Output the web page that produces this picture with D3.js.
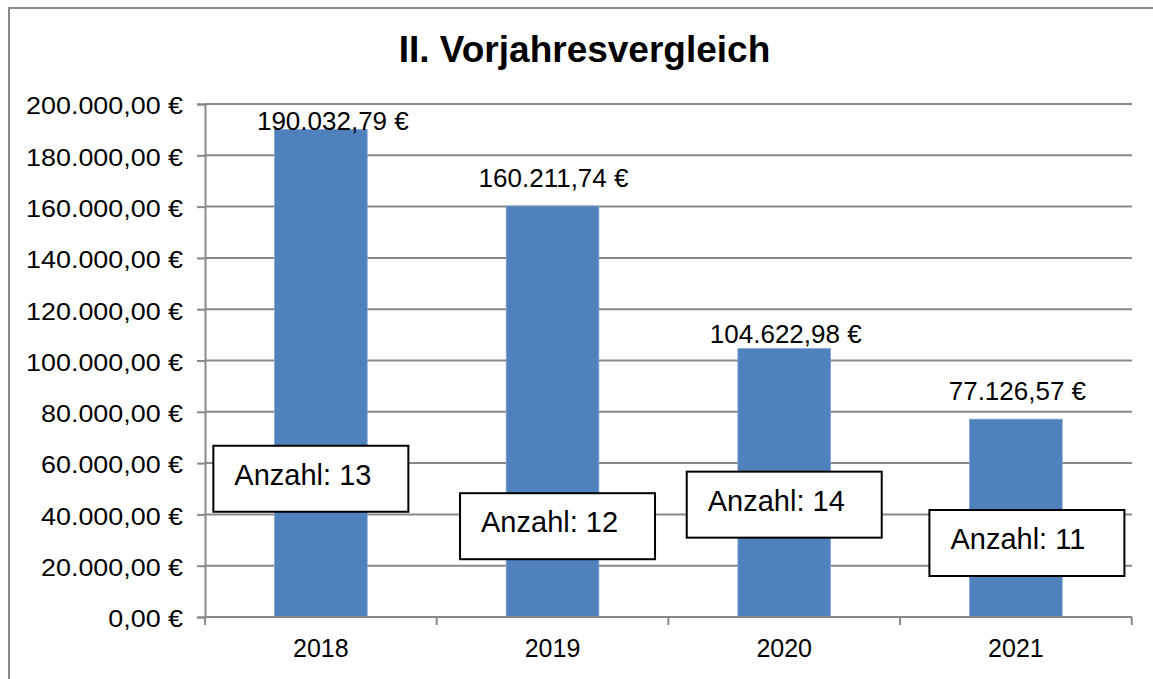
<!DOCTYPE html>
<html>
<head>
<meta charset="utf-8">
<script src="https://cdn.jsdelivr.net/npm/d3@7"></script>
<style>
  body { margin: 0; background: #fff; }
  text { font-family: "Liberation Sans", Arial, sans-serif; fill: #000; }
</style>
</head>
<body>
<div class="chart_area"></div>
<script>
// data
var years = ["2018", "2019", "2020", "2021"];
var amounts = [190032.79, 160211.74, 104622.98, 77126.57];
var counts = [13, 12, 14, 11];
var yTicks = [0, 20000, 40000, 60000, 80000, 100000, 120000, 140000, 160000, 180000, 200000];

// manual label placement (like dragged labels in the original)
var valueLabelDx = [12, 1, 1.5, 1.5],
    valueLabelDy = [0.5, -19.5, -5.3, -19];
var countBoxAt = [53900, 35400, 43800, 28850],
    countBoxDx = [-10, 5, 0, 11];

var width = 1153, height = 679;
var margin = { top: 104, right: 21, bottom: 62, left: 205 };

var svg = d3.select(".chart_area")
    .append("svg")
    .attr("width", width)
    .attr("height", height);

// outer frame
svg.append("rect")
    .attr("x", 9)
    .attr("y", 8)
    .attr("width", 1200)
    .attr("height", 720)
    .style("fill", "none")
    .style("stroke", "#898989")
    .style("stroke-width", 2);

// title
svg.append("text")
    .attr("x", 584.5)
    .attr("y", 62)
    .attr("text-anchor", "middle")
    .style("font-size", "37px")
    .style("font-weight", "bold")
    .text("II. Vorjahresvergleich");

var de = d3.formatLocale({ decimal: ",", thousands: ".", grouping: [3], currency: ["", " €"] });
var fmt = function(v) { return de.format(",.2f")(v) + " €"; };

// scales
var x = d3.scaleBand()
    .domain(years)
    .range([margin.left, width - margin.right - 0.25])
    .paddingInner(0.6)
    .paddingOuter(0.3);

var y = d3.scaleLinear()
    .domain([0, 200000])
    .range([height - margin.bottom, margin.top]);

var axisColor = "#898989";

// gridlines
svg.append("g")
    .selectAll("line")
    .data(yTicks)
    .enter()
    .append("line")
    .attr("x1", margin.left)
    .attr("x2", width - margin.right)
    .attr("y1", function(d) { return y(d); })
    .attr("y2", function(d) { return y(d); })
    .style("stroke", axisColor)
    .style("stroke-width", 2);

// Y axis
var yAxis = svg.append("g")
    .attr("transform", "translate(" + margin.left + ",0)")
    .call(d3.axisLeft(y).tickValues(yTicks).tickSize(8).tickPadding(14).tickFormat(fmt));

yAxis.select(".domain").style("stroke", axisColor).style("stroke-width", 2);
yAxis.selectAll("line").style("stroke", axisColor).style("stroke-width", 2);
yAxis.selectAll("text")
    .style("font-size", "24px")
    .attr("dy", "0.37em")
    .attr("transform", function() {
        var tx = +d3.select(this).attr("x");
        return "translate(" + tx + ",1) scale(1.12,1)";
    })
    .attr("x", 0);

// bars
svg.append("g")
    .selectAll("rect")
    .data(amounts)
    .enter()
    .append("rect")
    .attr("x", function(d, i) { return x(years[i]); })
    .attr("width", x.bandwidth())
    .attr("y", function(d) { return y(d); })
    .attr("height", function(d) { return y(0) - y(d); })
    .style("fill", "#4F81BD")
    .style("stroke", "#7fa3d1")
    .style("stroke-width", 0.8);

// X axis with tick marks on category boundaries
var xAxisG = svg.append("g")
    .attr("transform", "translate(0," + y(0) + ")");

xAxisG.append("line")
    .attr("x1", margin.left)
    .attr("x2", width - margin.right)
    .style("stroke", axisColor)
    .style("stroke-width", 2);

var bounds = years.map(function(d) { return x(d) - x.step() * 0.3; });
bounds.push(x(years[years.length - 1]) + x.bandwidth() + x.step() * 0.3);

xAxisG.selectAll(".xtick")
    .data(bounds)
    .enter()
    .append("line")
    .attr("x1", function(d) { return d; })
    .attr("x2", function(d) { return d; })
    .attr("y1", 0)
    .attr("y2", 8)
    .style("stroke", axisColor)
    .style("stroke-width", 2);

xAxisG.selectAll(".xlabel")
    .data(years)
    .enter()
    .append("text")
    .attr("x", function(d) { return x(d) + x.bandwidth() / 2; })
    .attr("y", 40)
    .attr("text-anchor", "middle")
    .style("font-size", "25px")
    .text(function(d) { return d; });

// value labels
svg.append("g")
    .selectAll("text")
    .data(amounts)
    .enter()
    .append("text")
    .attr("x", function(d, i) { return x(years[i]) + x.bandwidth() / 2 + valueLabelDx[i]; })
    .attr("y", function(d, i) { return y(d) + valueLabelDy[i]; })
    .attr("text-anchor", "middle")
    .style("font-size", "26px")
    .text(function(d) { return fmt(d); });

// count boxes
var boxW = 195, boxH = 66;
var boxes = svg.append("g")
    .selectAll("g")
    .data(counts)
    .enter()
    .append("g")
    .attr("transform", function(d, i) {
        var cx = x(years[i]) + x.bandwidth() / 2 + countBoxDx[i];
        return "translate(" + (cx - boxW / 2) + "," + (y(countBoxAt[i]) - boxH / 2) + ")";
    });

boxes.append("rect")
    .attr("width", boxW)
    .attr("height", boxH)
    .style("fill", "#fff")
    .style("stroke", "#000")
    .style("stroke-width", 2);

boxes.append("text")
    .attr("x", 21)
    .attr("y", 39)
    .style("font-size", "29px")
    .text(function(d) { return "Anzahl: " + d; });
</script>
</body>
</html>
